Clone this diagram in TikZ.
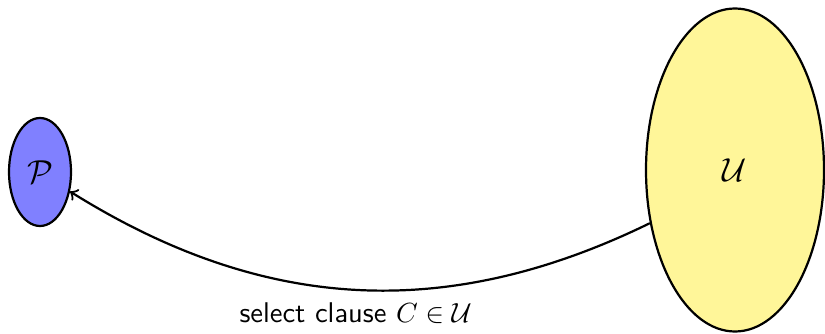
\documentclass[tikz,border=0pt]{standalone}
\usetikzlibrary{shapes.geometric}
\definecolor{pfill}{RGB}{128,128,255}
\definecolor{ufill}{RGB}{255,246,153}
\begin{document}
\begin{tikzpicture}[x=0.0127cm,y=-0.0127cm,
  setnode/.style={ellipse,draw,thick,inner sep=0pt,font=\large},
  conn/.style={->,thick}]
\useasboundingbox (0,0) rectangle (825,334);
\node[setnode,fill=pfill,minimum width=62*0.0127cm,minimum height=108*0.0127cm] (P) at (40,172) {$\mathcal{P}$};
\node[setnode,fill=ufill,minimum width=178*0.0127cm,minimum height=323*0.0127cm] (U) at (735,170) {$\mathcal{U}$};
\draw[conn] (U.212) to[out=206,in=-32,looseness=1.0]
  node[midway,below,font=\sffamily\fontsize{10.3}{12}\selectfont,yshift=-1pt] (lab) {select clause $C\in\mathcal{U}$} (P.-33);
\end{tikzpicture}
\end{document}
